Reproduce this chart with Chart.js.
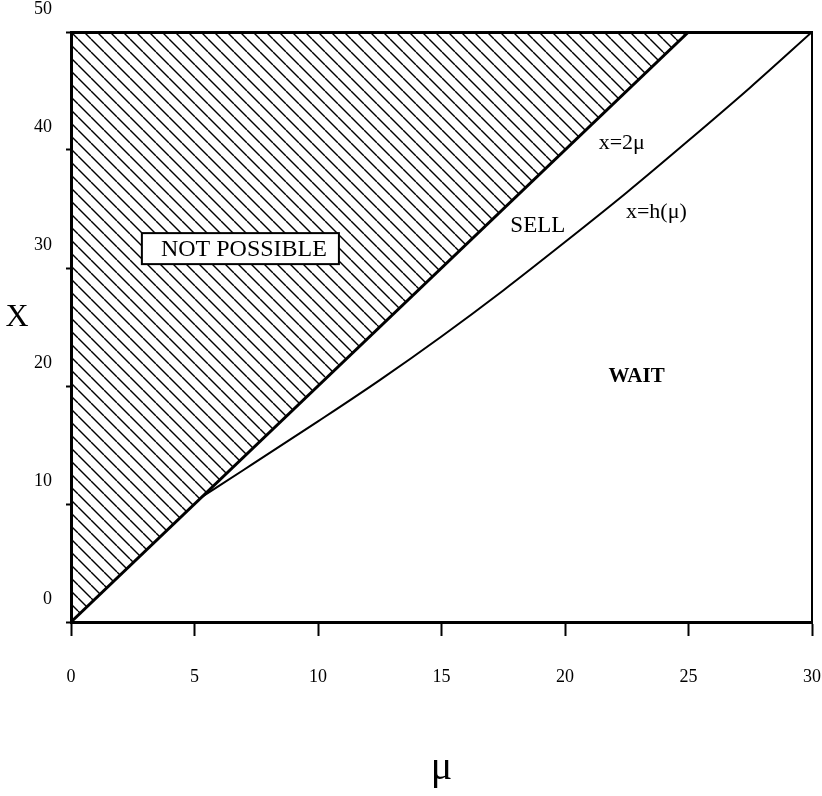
<!DOCTYPE html>
<html>
<head>
<meta charset="utf-8">
<title>Sell / wait regions</title>
<script src="https://cdn.jsdelivr.net/npm/chart.js@4.4.1/dist/chart.umd.min.js"></script>
<style>
  html, body { margin: 0; padding: 0; background: #fff; }
  canvas { display: block; }
</style>
</head>
<body>
<canvas id="chart" width="822" height="796"></canvas>
<script>
// limite x = 2μ (zona impossível acima dela)
const muBoundary = [0, 25];
const xBoundary = [0, 50];

// curva x = h(μ)
const muCurve = [5.3, 7, 10, 12.5, 15, 17.5, 20, 22.5, 25, 27.5, 30];
const xCurve = [10.6, 12.9, 17.0, 20.5, 24.2, 28.1, 32.2, 36.4, 40.8, 45.3, 50];

const muTicks = [0, 5, 10, 15, 20, 25, 30];
const xTicks = [0, 10, 20, 30, 40, 50];

const serif = "'Liberation Serif', 'DejaVu Serif', serif";

// textos dentro do gráfico, em coordenadas dos dados
const notes = [
  { text: 'SELL', mu: 18.9, x: 33.6, font: '23px ' + serif },
  { text: 'x=2μ', mu: 22.3, x: 40.6, font: '22px ' + serif },
  { text: 'x=h(μ)', mu: 23.7, x: 34.7, font: '22px ' + serif },
  { text: 'WAIT', mu: 22.9, x: 20.8, font: 'bold 21px ' + serif }
];
const boxNote = { text: 'NOT POSSIBLE', mu: 7.0, x: 31.6, font: '24px ' + serif };

function toPoints(xs, ys) {
  return xs.map((v, i) => ({ x: v, y: ys[i] }));
}

function hatchPattern(ctx) {
  const s = 13;
  const tile = document.createElement('canvas');
  tile.width = s;
  tile.height = s;
  const g = tile.getContext('2d');
  g.strokeStyle = '#000';
  g.lineWidth = 1.4;
  [-1, 0, 1].forEach(k => {
    g.beginPath();
    g.moveTo(k * s, 0);
    g.lineTo(k * s + s, s);
    g.stroke();
  });
  return ctx.createPattern(tile, 'repeat');
}

const labelsPlugin = {
  id: 'labels',
  afterDraw(chart) {
    const { ctx, scales: { x, y } } = chart;
    ctx.save();
    ctx.fillStyle = '#000';
    ctx.textAlign = 'center';
    ctx.textBaseline = 'middle';

    // caixa "NOT POSSIBLE"
    ctx.font = boxNote.font;
    const bx = x.getPixelForValue(boxNote.mu);
    const by = y.getPixelForValue(boxNote.x);
    const w = ctx.measureText(boxNote.text).width;
    ctx.fillStyle = '#fff';
    ctx.fillRect(bx - w / 2 - 19, by - 16, w + 31, 31);
    ctx.strokeStyle = '#000';
    ctx.lineWidth = 2;
    ctx.strokeRect(bx - w / 2 - 19, by - 16, w + 31, 31);
    ctx.fillStyle = '#000';
    ctx.fillText(boxNote.text, bx, by + 1);

    notes.forEach(n => {
      ctx.font = n.font;
      ctx.fillText(n.text, x.getPixelForValue(n.mu), y.getPixelForValue(n.x));
    });

    // rótulo do eixo vertical, na horizontal
    ctx.font = '32px ' + serif;
    ctx.fillText('X', y.left + 17, y.getPixelForValue(25.8));
    ctx.restore();
  }
};

const ctx = document.getElementById('chart').getContext('2d');

new Chart(ctx, {
  type: 'scatter',
  data: {
    datasets: [{
      data: toPoints(muBoundary, xBoundary),
      showLine: true,
      borderColor: '#000',
      borderWidth: 3,
      pointRadius: 0,
      fill: 'end',
      backgroundColor: hatchPattern(ctx)
    }, {
      data: toPoints(muCurve, xCurve),
      showLine: true,
      borderColor: '#000',
      borderWidth: 2,
      pointRadius: 0,
      cubicInterpolationMode: 'monotone',
      fill: false
    }]
  },
  options: {
    responsive: false,
    animation: false,
    devicePixelRatio: 1,
    layout: { padding: 0 },
    plugins: {
      legend: { display: false },
      tooltip: { enabled: false }
    },
    scales: {
      x: {
        type: 'linear',
        position: 'bottom',
        min: 0,
        max: 30,
        afterBuildTicks: s => { s.ticks = muTicks.map(v => ({ value: v })); },
        afterFit: s => { s.height = 174; s.paddingLeft = 0; s.paddingRight = 0; },
        grid: { drawOnChartArea: false, tickLength: 14, tickWidth: 2, tickColor: '#000' },
        border: { display: true, width: 3, color: '#000' },
        ticks: { color: '#000', padding: 30, font: { family: serif, size: 18 } },
        title: {
          display: true,
          text: 'μ',
          color: '#000',
          font: { family: serif, size: 40 },
          padding: { bottom: 4 }
        }
      },
      y: {
        type: 'linear',
        position: 'left',
        min: 0,
        max: 50,
        afterBuildTicks: s => { s.ticks = xTicks.map(v => ({ value: v })); },
        afterFit: s => { s.width = 71; s.paddingTop = 0; s.paddingBottom = 0; },
        grid: { drawOnChartArea: false, tickLength: 5, tickWidth: 2, tickColor: '#000' },
        border: { display: true, width: 3, color: '#000' },
        ticks: { color: '#000', padding: 14, labelOffset: -23, font: { family: serif, size: 18 } }
      },
      xTop: {
        type: 'linear',
        position: 'top',
        min: 0,
        max: 30,
        afterFit: s => { s.height = 32; s.paddingLeft = 0; s.paddingRight = 0; },
        grid: { display: false },
        ticks: { display: false },
        border: { display: true, width: 3, color: '#000' }
      },
      yRight: {
        type: 'linear',
        position: 'right',
        min: 0,
        max: 50,
        afterFit: s => { s.width = 10; s.paddingTop = 0; s.paddingBottom = 0; },
        grid: { display: false },
        ticks: { display: false },
        border: { display: true, width: 2, color: '#000' }
      }
    }
  },
  plugins: [labelsPlugin]
});
</script>
</body>
</html>
